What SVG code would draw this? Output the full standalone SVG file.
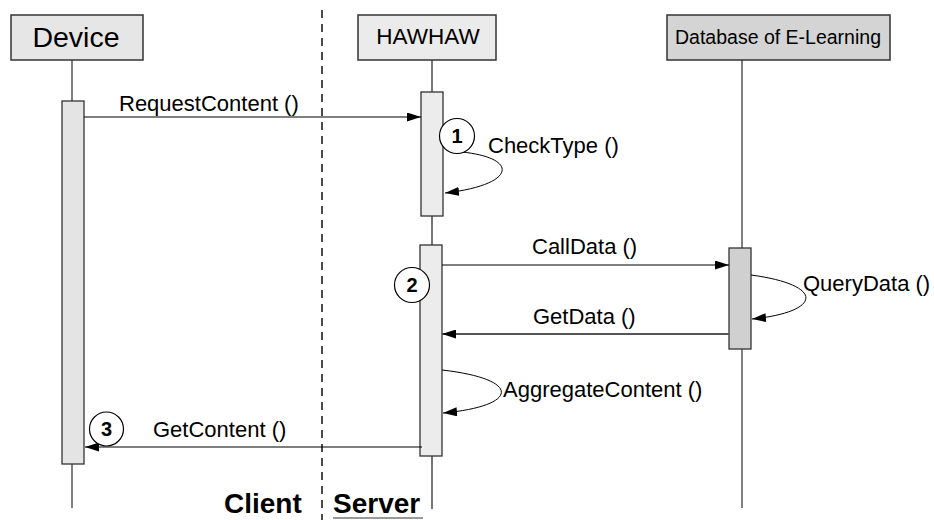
<svg xmlns="http://www.w3.org/2000/svg" width="934" height="520" viewBox="0 0 934 520">
  <style>
    text { font-family: "Liberation Sans", Arial, sans-serif; fill: #000; }
    .head { stroke: #333; stroke-width: 1.5; }
    .bar { stroke: #333; stroke-width: 1.3; }
    .life { stroke: #000; stroke-width: 1; fill: none; }
    .life-gray { stroke: #555; stroke-width: 1.6; fill: none; }
    .msg { stroke: #000; stroke-width: 1.1; fill: none; marker-end: url(#arrow); }
    .msg-gray { stroke: #555; stroke-width: 1.8; fill: none; marker-end: url(#arrow); }
    .self { stroke: #000; stroke-width: 1; fill: none; marker-end: url(#arrow); }
    .label { font-size: 22px; }
    .step { fill: #fff; stroke: #000; stroke-width: 1.2; }
    .num { font-size: 20px; font-weight: bold; text-anchor: middle; }
    .side { font-size: 28px; font-weight: bold; }
  </style>
  <defs>
    <marker id="arrow" markerUnits="userSpaceOnUse" markerWidth="14" markerHeight="9" refX="14" refY="4.5" orient="auto">
      <path d="M0,0 L14,4.5 L0,9 z" fill="#000"/>
    </marker>
  </defs>

  <!-- client / server divider -->
  <line x1="322" y1="10" x2="322" y2="520" stroke="#000" stroke-width="1.4" stroke-dasharray="8,6"/>
  <text class="side" x="224" y="513">Client</text>
  <text class="side" x="333" y="513">Server</text>
  <line x1="333" y1="518" x2="423" y2="518" stroke="#999" stroke-width="2"/>

  <!-- Device -->
  <g id="device">
    <line class="life" x1="72" y1="60" x2="72" y2="508"/>
    <rect class="head" x="11" y="15" width="132" height="45" fill="#e6e6e6"/>
    <text x="76" y="47" font-size="28.5" text-anchor="middle">Device</text>
    <rect class="bar" x="62" y="101" width="22" height="363" fill="#e4e4e4"/>
  </g>

  <!-- HAWHAW -->
  <g id="hawhaw">
    <line class="life-gray" x1="432" y1="60" x2="432" y2="509"/>
    <rect class="head" x="358" y="15" width="138" height="45" fill="#ebebeb"/>
    <text x="428" y="44" font-size="22.5" text-anchor="middle">HAWHAW</text>
    <rect class="bar" x="421" y="92" width="22" height="124" fill="#ececec"/>
    <rect class="bar" x="420" y="245" width="22" height="211" fill="#ececec"/>
  </g>

  <!-- Database of E-Learning -->
  <g id="database">
    <line class="life" x1="742" y1="60" x2="742" y2="508"/>
    <rect class="head" x="667" y="15" width="223" height="45" fill="#d4d4d4"/>
    <text x="778" y="44" font-size="19.5" text-anchor="middle">Database of E-Learning</text>
    <rect class="bar" x="729" y="248" width="22" height="101" fill="#d0d0d0"/>
  </g>

  <!-- messages -->
  <g id="connectors">
    <line class="msg" x1="84" y1="117" x2="421" y2="117"/>
    <path class="self" d="M462,152 C520,158 516,185 445,193"/>
    <line class="msg" x1="442" y1="265" x2="729" y2="265"/>
    <path class="self" d="M751,275 C826,285 822,312 752,319"/>
    <line class="msg-gray" x1="729" y1="334" x2="442" y2="334"/>
    <path class="self" d="M442,370 C522,379 520,406 443,413"/>
    <line class="msg" x1="422" y1="447" x2="85" y2="447"/>
  </g>

  <g id="labels">
    <text class="label" x="119" y="111">RequestContent ()</text>
    <text class="label" x="488" y="153">CheckType ()</text>
    <text class="label" x="532" y="254">CallData ()</text>
    <text class="label" x="803" y="291">QueryData ()</text>
    <text class="label" x="533" y="324">GetData ()</text>
    <text class="label" x="503" y="397">AggregateContent ()</text>
    <text class="label" x="153" y="437">GetContent ()</text>
  </g>

  <!-- numbered steps -->
  <g id="step1">
    <circle class="step" cx="457" cy="136" r="17.5"/>
    <text class="num" x="457" y="143">1</text>
  </g>
  <g id="step2">
    <circle class="step" cx="412" cy="285" r="17.5"/>
    <text class="num" x="412" y="292">2</text>
  </g>
  <g id="step3">
    <circle class="step" cx="106.5" cy="429" r="17"/>
    <text class="num" x="106.5" y="436">3</text>
  </g>
</svg>
